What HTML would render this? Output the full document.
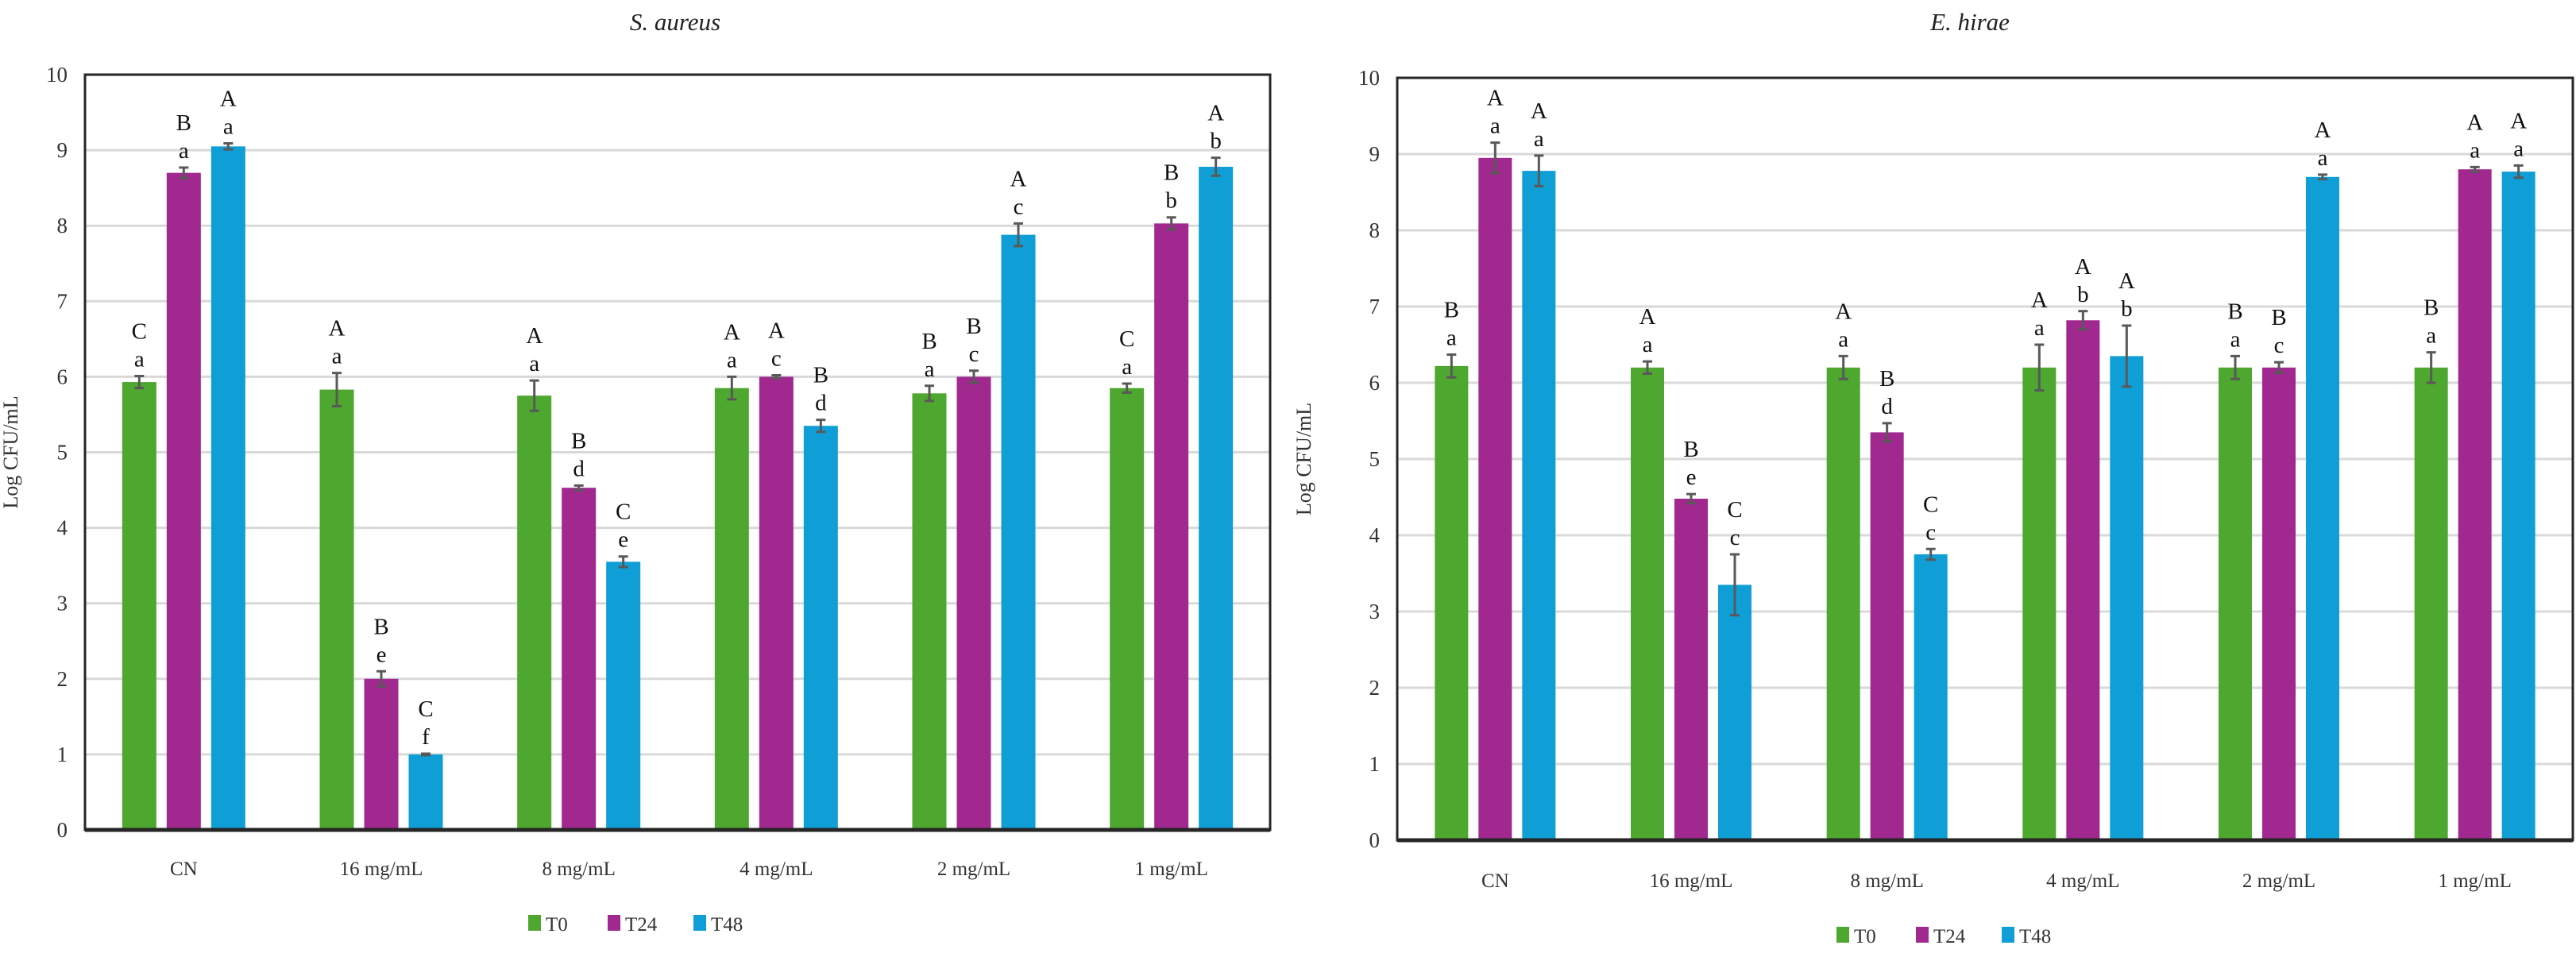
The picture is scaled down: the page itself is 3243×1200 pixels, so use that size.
<!DOCTYPE html>
<html><head><meta charset="utf-8">
<style>
html,body{margin:0;padding:0;background:#fff;}
svg{display:block;font-family:"Liberation Serif",serif;}
</style></head>
<body>
<svg id="chart" width="3243" height="1200" viewBox="0 0 3243 1200" xmlns="http://www.w3.org/2000/svg"></svg>
<script>
const categories = ["CN","16 mg/mL","8 mg/mL","4 mg/mL","2 mg/mL","1 mg/mL"];
const seriesNames = ["T0","T24","T48"];
const yTicks = [0,1,2,3,4,5,6,7,8,9,10];
// S. aureus
const saT0 = [5.93,5.83,5.75,5.85,5.78,5.85];
const saT24 = [8.70,2.00,4.53,6.00,6.00,8.03];
const saT48 = [9.05,1.00,3.55,5.35,7.88,8.78];
const saErrT0 = [0.08,0.22,0.20,0.15,0.10,0.06];
const saErrT24 = [0.07,0.10,0.03,0.02,0.08,0.08];
const saErrT48 = [0.04,0.01,0.07,0.08,0.15,0.12];
const saUpT0 = ["C","A","A","A","B","C"];
const saUpT24 = ["B","B","B","A","B","B"];
const saUpT48 = ["A","C","C","B","A","A"];
const saLoT0 = ["a","a","a","a","a","a"];
const saLoT24 = ["a","e","d","c","c","b"];
const saLoT48 = ["a","f","e","d","c","b"];
// E. hirae
const ehT0 = [6.22,6.20,6.20,6.20,6.20,6.20];
const ehT24 = [8.95,4.48,5.35,6.82,6.20,8.80];
const ehT48 = [8.78,3.35,3.75,6.35,8.70,8.77];
const ehErrT0 = [0.15,0.08,0.15,0.30,0.15,0.20];
const ehErrT24 = [0.20,0.06,0.12,0.12,0.07,0.03];
const ehErrT48 = [0.20,0.40,0.07,0.40,0.03,0.08];
const ehUpT0 = ["B","A","A","A","B","B"];
const ehUpT24 = ["A","B","B","A","B","A"];
const ehUpT48 = ["A","C","C","A","A","A"];
const ehLoT0 = ["a","a","a","a","a","a"];
const ehLoT24 = ["a","e","d","b","c","a"];
const ehLoT48 = ["a","c","c","b","a","a"];

const colors = ["#4EA72E","#A0288F","#0F9ED5"];
const NS = "http://www.w3.org/2000/svg";
const svg = document.getElementById("chart");
function mk(tag, attrs, parent, text){
  const e = document.createElementNS(NS, tag);
  for (const k in attrs) e.setAttribute(k, attrs[k]);
  if (text !== undefined) e.textContent = text;
  (parent||svg).appendChild(e);
  return e;
}

function drawPanel(cfg){
  const g = mk("g", {});
  
  
  const L=cfg.left,R=cfg.right,T=cfg.top,B=cfg.bottom;
  const y = v => B - (v/10)*(B-T);
  const gw = (R-L)/categories.length;
  const xc = i => L + gw*(i+0.5);
  // gridlines
  yTicks.forEach(t=>{
    if (t>0 && t<10){
      const l = mk("line",{x1:L,x2:R,y1:y(t),y2:y(t),stroke:"#d9d9d9","stroke-width":3},g);
      
      
    }
    const tl = mk("text",{x:L-22,y:y(t)+9,"text-anchor":"end","font-size":27,fill:"#333"},g,String(t));
    
    
  });
  // bars
  const series=[cfg.s0,cfg.s1,cfg.s2], errs=[cfg.e0,cfg.e1,cfg.e2], ups=[cfg.u0,cfg.u1,cfg.u2], los=[cfg.l0,cfg.l1,cfg.l2];
  categories.forEach((c,i)=>{
    for(let s=0;s<3;s++){
      const cx = xc(i)+(s-1)*cfg.pitch;
      const v = series[s][i];
      const r = mk("rect",{x:cx-cfg.bw/2,y:y(v),width:cfg.bw,height:B-y(v),fill:colors[s]},g);
      
      
      const e = errs[s][i];
      const eb = mk("path",{d:`M${cx},${y(v+e)}V${y(v-e)}M${cx-6},${y(v+e)}H${cx+6}M${cx-6},${y(v-e)}H${cx+6}`,stroke:"#595959","stroke-width":3,fill:"none"},g);
      
      
      const top = y(v+e);
      const lo = mk("text",{x:cx,y:top-12,"text-anchor":"middle","font-size":29,fill:"#111"},g,los[s][i]);
      
      
      const up = mk("text",{x:cx,y:top-47,"text-anchor":"middle","font-size":29,fill:"#111"},g,ups[s][i]);
      
      
    }
    const cl = mk("text",{x:xc(i),y:cfg.catY,"text-anchor":"middle","font-size":25,fill:"#333"},g,c);
    
    
  });
  // frame
  const fr = mk("rect",{x:L,y:T,width:R-L,height:B-T,fill:"none",stroke:"#262626","stroke-width":3},g);
  
  
  const ax = mk("line",{x1:L,x2:R,y1:B,y2:B,stroke:"#262626","stroke-width":5},g);
  
  
  // title
  const ti = mk("text",{x:cfg.titleX,y:38,"text-anchor":"middle","font-size":31,"font-style":"italic",fill:"#222"},g,cfg.title);
  
  
  // y axis title
  const yt = mk("text",{x:0,y:0,"text-anchor":"middle","font-size":26,fill:"#333",transform:`translate(${cfg.yTitleX},${(T+B)/2}) rotate(-90)`},g,"Log CFU/mL");
  
  
  // legend
  const lx=[cfg.legX, cfg.legX+100, cfg.legX+208];
  seriesNames.forEach((n,s)=>{
    const lg = mk("g",{},g);
    
    
    mk("rect",{x:lx[s],y:cfg.legY-20,width:16,height:20,fill:colors[s]},lg);
    mk("text",{x:lx[s]+22,y:cfg.legY,"font-size":25,fill:"#333"},lg,n);
  });
}

drawPanel({name:"s-aureus-chart",title:"S. aureus",titleX:850,left:107,right:1599,top:94,bottom:1045,pitch:56,bw:43,
  s0:saT0,s1:saT24,s2:saT48,e0:saErrT0,e1:saErrT24,e2:saErrT48,u0:saUpT0,u1:saUpT24,u2:saUpT48,l0:saLoT0,l1:saLoT24,l2:saLoT48,
  catY:1102,legX:665,legY:1172,yTitleX:22});
drawPanel({name:"e-hirae-chart",title:"E. hirae",titleX:2480,left:1759,right:3239,top:98,bottom:1058,pitch:55,bw:42,
  s0:ehT0,s1:ehT24,s2:ehT48,e0:ehErrT0,e1:ehErrT24,e2:ehErrT48,u0:ehUpT0,u1:ehUpT24,u2:ehUpT48,l0:ehLoT0,l1:ehLoT24,l2:ehLoT48,
  catY:1117,legX:2312,legY:1187,yTitleX:1650});
</script>
</body></html>
